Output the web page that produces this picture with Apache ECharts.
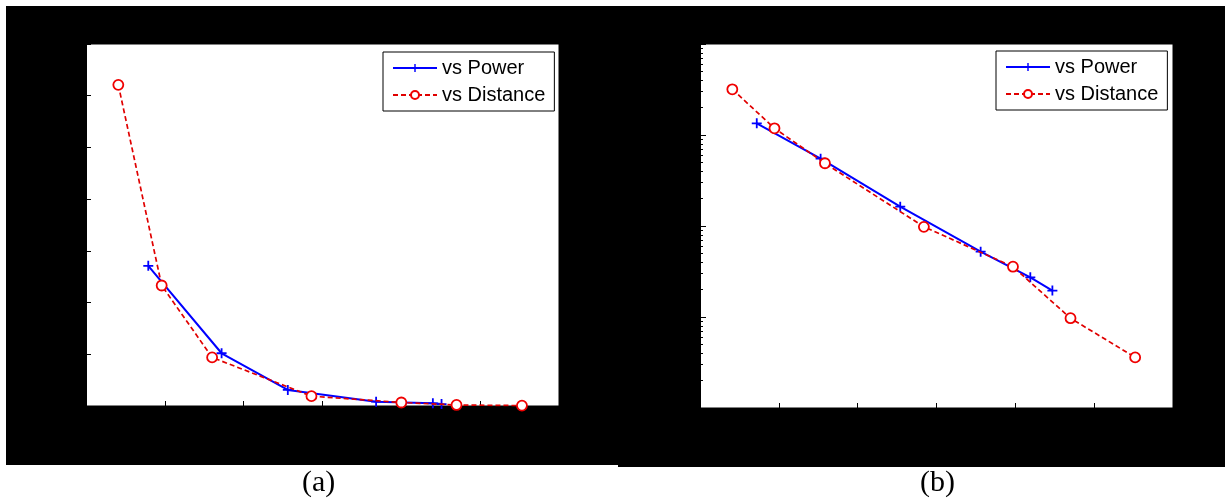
<!DOCTYPE html>
<html>
<head>
<meta charset="utf-8">
<script src="https://cdn.jsdelivr.net/npm/echarts@6/dist/echarts.min.js"></script>
<style>
  html, body { margin: 0; padding: 0; background: #fff; }
  #wrap { position: relative; width: 1225px; height: 503px; }
  .panel { position: absolute; background: #000; }
  #chart { position: absolute; left: 0; top: 0; width: 1225px; height: 503px; }
</style>
</head>
<body>
<div id="wrap">
  <div class="panel" style="left:6px;top:6px;width:612px;height:459px;"></div>
  <div class="panel" style="left:618px;top:6px;width:607px;height:461px;"></div>
  <div id="chart"></div>
</div>
<script>
// ---- data ----
const seriesNames = ['vs Power', 'vs Distance'];
const captions = ['(a)', '(b)'];

// panel (a): linear y axis
const powerXA = [0.79, 1.72, 2.56, 3.68, 4.40, 4.51];
const powerYA = [1.355, 0.51, 0.155, 0.042, 0.026, 0.019];
const distXA  = [0.41, 0.96, 1.60, 2.86, 4.00, 4.70, 5.53];
const distYA  = [3.105, 1.165, 0.47, 0.095, 0.034, 0.01, 0.004];

// panel (b): log y axis
const powerXB = [0.72, 1.53, 2.54, 3.56, 4.19, 4.47];
const powerYB = [1.345, 0.55, 0.163, 0.0522, 0.0273, 0.0195];
const distXB  = [0.41, 0.945, 1.585, 2.84, 3.97, 4.70, 5.52];
const distYB  = [3.18, 1.185, 0.489, 0.098, 0.0357, 0.0097, 0.0036];

const pairs = (xs, ys) => xs.map((x, i) => [x, ys[i]]);

const plusPath = 'path://M4.1,0H5.9V4.1H10V5.9H5.9V10H4.1V5.9H0V4.1H4.1Z';

function powerSeries(idx, data) {
  return {
    name: seriesNames[0], type: 'line', xAxisIndex: idx, yAxisIndex: idx,
    data: data, symbol: plusPath, symbolSize: 10,
    itemStyle: { color: '#0000ff' },
    lineStyle: { color: '#0000ff', width: 2 },
    animation: false, z: 3
  };
}
function distSeries(idx, data) {
  return {
    name: seriesNames[1], type: 'line', xAxisIndex: idx, yAxisIndex: idx,
    data: data, symbol: 'circle', symbolSize: 10,
    itemStyle: { color: '#ffffff', borderColor: '#f00000', borderWidth: 1.8 },
    lineStyle: { color: '#e00000', width: 1.7, type: [5, 3] },
    animation: false, z: 4
  };
}

const xAxisCommon = {
  type: 'value', min: 0, max: 6, interval: 1,
  axisLine: { show: true, lineStyle: { color: '#000', width: 1 } },
  axisTick: { show: true, inside: true, length: 5, lineStyle: { color: '#000' } },
  axisLabel: { show: false }, splitLine: { show: false }
};

const legendCommon = {
  orient: 'vertical', data: seriesNames,
  backgroundColor: '#fff', borderColor: '#000', borderWidth: 1, borderRadius: 0,
  padding: [5, 9, 5, 9], itemWidth: 44, itemHeight: 10, itemGap: 5,
  selectedMode: false,
  textStyle: { color: '#000', fontSize: 20, lineHeight: 22, fontFamily: '"Liberation Sans", Arial, sans-serif' }
};

const chart = echarts.init(document.getElementById('chart'), null, { renderer: 'canvas' });
chart.setOption({
  backgroundColor: 'transparent',
  animation: false,
  grid: [
    { left: 86, top: 44, width: 473, height: 362, show: true, backgroundColor: '#fff', borderColor: '#000', borderWidth: 1 },
    { left: 700, top: 44, width: 473, height: 364, show: true, backgroundColor: '#fff', borderColor: '#000', borderWidth: 1 }
  ],
  xAxis: [
    Object.assign({ gridIndex: 0 }, xAxisCommon),
    Object.assign({ gridIndex: 1 }, xAxisCommon)
  ],
  yAxis: [
    {
      gridIndex: 0, type: 'value', min: 0, max: 3.5, interval: 0.5,
      axisLine: { show: true, lineStyle: { color: '#000' } },
      axisTick: { show: true, inside: true, length: 5, lineStyle: { color: '#000' } },
      axisLabel: { show: false }, splitLine: { show: false }
    },
    {
      gridIndex: 1, type: 'log', logBase: 10, min: 0.001, max: 10,
      axisLine: { show: true, lineStyle: { color: '#000' } },
      axisTick: { show: true, inside: true, length: 6, lineStyle: { color: '#000' } },
      minorTick: { show: true, splitNumber: 9, length: 3, lineStyle: { color: '#000' } },
      axisLabel: { show: false }, splitLine: { show: false }
    }
  ],
  legend: [
    Object.assign({ left: 383, top: 52 }, legendCommon),
    Object.assign({ left: 996, top: 51 }, legendCommon)
  ],
  graphic: [
    { type: 'text', left: 302, top: 468, style: { text: captions[0], font: '30px "Liberation Serif", "Times New Roman", serif', fill: '#000' } },
    { type: 'text', left: 920, top: 468, style: { text: captions[1], font: '30px "Liberation Serif", "Times New Roman", serif', fill: '#000' } }
  ],
  series: [
    powerSeries(0, pairs(powerXA, powerYA)),
    distSeries(0, pairs(distXA, distYA)),
    powerSeries(1, pairs(powerXB, powerYB)),
    distSeries(1, pairs(distXB, distYB))
  ]
});
</script>
</body>
</html>
